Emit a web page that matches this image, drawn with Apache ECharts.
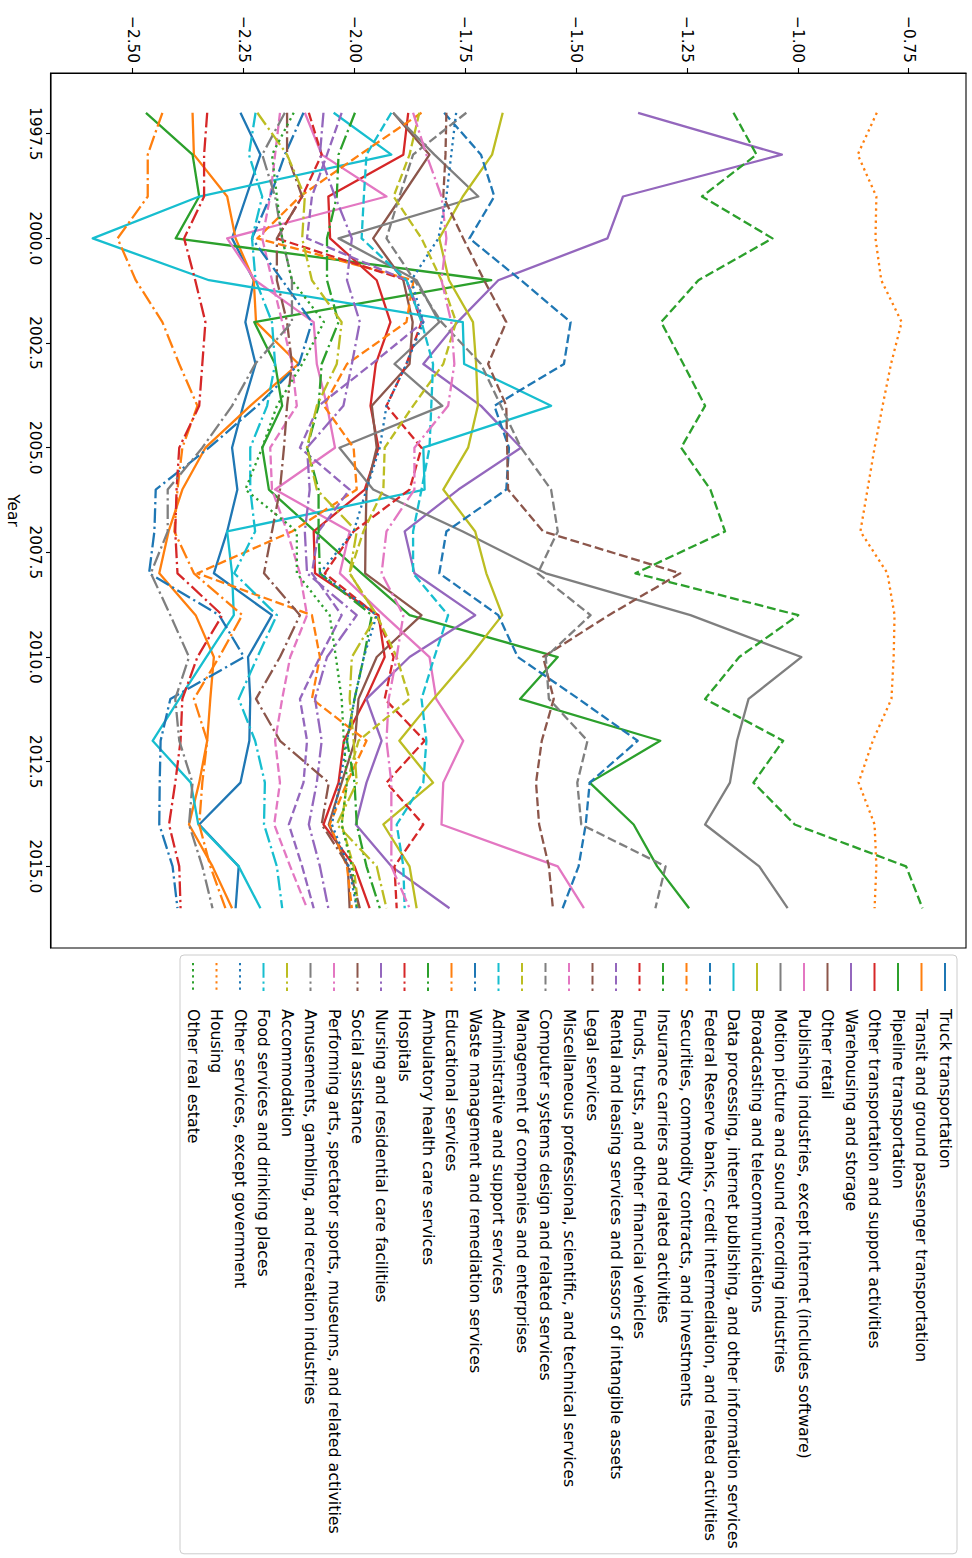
<!DOCTYPE html>
<html>
<head>
<meta charset="utf-8">
<script src="https://cdn.jsdelivr.net/npm/echarts@6/dist/echarts.min.js"></script>
<style>
  html, body { margin: 0; padding: 0; width: 972px; height: 1558px; overflow: hidden; background: #fff; }
  /* The figure is laid out landscape (1558 x 972) and turned a quarter clockwise onto the page. */
  #chart {
    position: absolute; left: 0; top: 0;
    width: 1558px; height: 972px;
    transform-origin: 0 0;
    transform: translate(972px, 0) rotate(90deg);
  }
</style>
</head>
<body>
<div id="chart"></div>
<script>
const years = [1997,1998,1999,2000,2001,2002,2003,2004,2005,2006,2007,2008,2009,2010,2011,2012,2013,2014,2015,2016];
const yearTicks = [1997.5, 2000.0, 2002.5, 2005.0, 2007.5, 2010.0, 2012.5, 2015.0];
const valueTicks = [-2.50, -2.25, -2.00, -1.75, -1.50, -1.25, -1.00, -0.75];

const industryNames = [
  "Truck transportation",
  "Transit and ground passenger transportation",
  "Pipeline transportation",
  "Other transportation and support activities",
  "Warehousing and storage",
  "Other retail",
  "Publishing industries, except internet (includes software)",
  "Motion picture and sound recording industries",
  "Broadcasting and telecommunications",
  "Data processing, internet publishing, and other information services",
  "Federal Reserve banks, credit intermediation, and related activities",
  "Securities, commodity contracts, and investments",
  "Insurance carriers and related activities",
  "Funds, trusts, and other financial vehicles",
  "Rental and leasing services and lessors of intangible assets",
  "Legal services",
  "Miscellaneous professional, scientific, and technical services",
  "Computer systems design and related services",
  "Management of companies and enterprises",
  "Administrative and support services",
  "Waste management and remediation services",
  "Educational services",
  "Ambulatory health care services",
  "Hospitals",
  "Nursing and residential care facilities",
  "Social assistance",
  "Performing arts, spectator sports, museums, and related activities",
  "Amusements, gambling, and recreation industries",
  "Accommodation",
  "Food services and drinking places",
  "Other services, except government",
  "Housing",
  "Other real estate"
];

const truck = [-2.257,-2.212,-2.244,-2.276,-2.227,-2.246,-2.223,-2.251,-2.276,-2.264,-2.287,-2.317,-2.186,-2.240,-2.235,-2.237,-2.257,-2.350,-2.261,-2.268];
const transit = [-2.365,-2.362,-2.287,-2.268,-2.227,-2.222,-2.126,-2.235,-2.336,-2.388,-2.419,-2.440,-2.358,-2.317,-2.325,-2.332,-2.350,-2.373,-2.320,-2.276];
const pipeline = [-2.470,-2.365,-2.350,-2.403,-1.692,-2.226,-2.179,-2.163,-2.208,-2.193,-2.089,-1.984,-1.876,-1.542,-1.627,-1.311,-1.470,-1.371,-1.318,-1.246];
const otherTransport = [-1.879,-1.890,-2.059,-2.055,-1.950,-1.919,-1.952,-1.964,-1.946,-1.977,-2.092,-2.089,-1.946,-1.932,-1.975,-2.024,-2.036,-2.070,-2.000,-1.966];
const warehousing = [-1.361,-1.037,-1.395,-1.430,-1.676,-1.768,-1.845,-1.715,-1.625,-1.766,-1.887,-1.865,-1.728,-1.876,-1.973,-1.939,-1.973,-1.997,-1.917,-1.786];
const otherRetail = [-1.913,-1.831,-1.894,-1.958,-1.890,-1.869,-1.876,-1.961,-1.950,-1.973,-1.975,-1.976,-1.849,-1.950,-1.991,-1.999,-2.029,-2.058,-2.015,-2.011];
const publishing = [-2.112,-2.074,-1.928,-2.287,-2.224,-2.092,-2.085,-2.062,-2.044,-2.179,-2.011,-2.033,-1.934,-1.831,-1.816,-1.755,-1.800,-1.804,-1.542,-1.483];
const motionPicture = [-1.913,-1.820,-1.721,-2.036,-1.860,-1.809,-1.910,-1.802,-2.034,-1.958,-1.756,-1.569,-1.243,-0.993,-1.112,-1.138,-1.154,-1.210,-1.088,-1.024];
const broadcasting = [-1.666,-1.690,-1.756,-1.809,-1.787,-1.733,-1.726,-1.722,-1.744,-1.800,-1.728,-1.703,-1.667,-1.741,-1.822,-1.899,-1.823,-1.935,-1.876,-1.860];
const dataProcessing = [-2.047,-1.917,-2.350,-2.590,-2.328,-1.756,-1.753,-1.557,-1.845,-1.842,-2.287,-2.276,-2.272,-2.334,-2.395,-2.455,-2.369,-2.352,-2.261,-2.212];
const federalReserve = [-1.798,-1.715,-1.685,-1.741,-1.625,-1.513,-1.528,-1.685,-1.652,-1.658,-1.793,-1.809,-1.676,-1.632,-1.495,-1.362,-1.470,-1.479,-1.495,-1.531];
const securities = [-1.849,-1.988,-2.123,-2.219,-1.867,-1.883,-2.017,-2.069,-2.002,-1.995,-2.141,-2.354,-2.096,-2.078,-2.096,-1.973,-2.017,-2.056,-2.017,-2.006];
const insurance = [-1.146,-1.094,-1.217,-1.058,-1.225,-1.309,-1.259,-1.210,-1.264,-1.198,-1.165,-1.367,-1.000,-1.133,-1.210,-1.034,-1.101,-1.008,-0.757,-0.720];
const funds = [-2.103,-2.074,-2.118,-2.175,-1.883,-1.849,-1.883,-1.928,-1.849,-1.876,-2.002,-2.067,-1.950,-1.912,-1.932,-1.842,-1.928,-1.845,-1.910,-1.905];
const rental = [-2.029,-2.062,-2.096,-2.107,-1.883,-1.845,-1.961,-2.081,-2.123,-2.011,-2.081,-2.096,-2.029,-2.078,-2.123,-2.107,-2.115,-2.148,-2.118,-2.092];
const legal = [-1.793,-1.795,-1.800,-1.755,-1.708,-1.658,-1.699,-1.658,-1.656,-1.654,-1.575,-1.266,-1.427,-1.575,-1.551,-1.578,-1.591,-1.584,-1.562,-1.553];
const miscProfessional = [-2.168,-2.179,-2.190,-2.208,-2.186,-2.163,-2.141,-2.130,-2.190,-2.186,-2.152,-2.123,-2.107,-2.145,-2.163,-2.179,-2.168,-2.181,-2.145,-2.107];
const computerSystems = [-1.748,-1.868,-1.899,-1.928,-1.865,-1.804,-1.715,-1.670,-1.625,-1.557,-1.542,-1.587,-1.468,-1.569,-1.562,-1.475,-1.498,-1.489,-1.299,-1.322];
const management = [-1.854,-1.876,-1.912,-1.849,-1.804,-1.771,-1.800,-1.868,-1.932,-1.935,-1.980,-2.011,-1.950,-1.905,-1.876,-1.991,-2.017,-2.029,-2.002,-1.991];
const administrative = [-1.917,-1.973,-1.979,-1.984,-1.883,-1.849,-1.823,-1.827,-1.831,-1.849,-1.868,-1.868,-1.789,-1.820,-1.849,-1.838,-1.845,-1.905,-1.890,-1.887];
const wasteManagement = [-2.115,-2.157,-2.190,-2.231,-2.163,-2.096,-2.125,-2.219,-2.328,-2.448,-2.451,-2.463,-2.305,-2.249,-2.415,-2.437,-2.439,-2.440,-2.410,-2.399];
const educational = [-2.433,-2.466,-2.466,-2.534,-2.493,-2.433,-2.395,-2.354,-2.388,-2.399,-2.406,-2.362,-2.253,-2.305,-2.362,-2.332,-2.343,-2.350,-2.325,-2.291];
const ambulatory = [-1.999,-2.036,-2.040,-2.062,-2.062,-2.036,-2.074,-2.081,-2.107,-2.081,-2.081,-2.078,-1.961,-1.979,-2.000,-2.017,-2.000,-1.995,-1.973,-1.943];
const hospitals = [-2.332,-2.339,-2.339,-2.384,-2.359,-2.336,-2.343,-2.350,-2.395,-2.401,-2.404,-2.399,-2.298,-2.354,-2.388,-2.392,-2.404,-2.418,-2.395,-2.392];
const nursing = [-2.070,-2.078,-2.044,-2.006,-2.017,-1.988,-2.006,-2.025,-2.107,-2.101,-2.112,-2.107,-1.995,-2.062,-2.089,-2.074,-2.085,-2.103,-2.078,-2.059];
const socialAssistance = [-2.152,-2.152,-2.118,-2.175,-2.175,-2.152,-2.141,-2.152,-2.159,-2.168,-2.186,-2.204,-2.123,-2.168,-2.222,-2.168,-2.058,-2.074,-2.013,-1.988];
const performingArts = [-1.868,-1.838,-1.804,-1.793,-1.804,-1.782,-1.775,-1.789,-1.865,-1.865,-1.928,-1.939,-1.890,-1.905,-1.923,-1.928,-1.917,-1.917,-1.917,-1.876];
const amusements = [-2.157,-2.208,-2.179,-2.163,-2.141,-2.141,-2.224,-2.276,-2.343,-2.421,-2.421,-2.459,-2.415,-2.373,-2.404,-2.395,-2.365,-2.373,-2.343,-2.320];
const accommodation = [-2.219,-2.152,-2.112,-2.118,-2.096,-2.029,-2.040,-2.085,-2.107,-2.085,-1.995,-2.011,-1.950,-2.006,-2.011,-2.002,-1.995,-2.040,-1.950,-1.928];
const foodServices = [-2.223,-2.238,-2.208,-2.231,-2.223,-2.186,-2.179,-2.197,-2.235,-2.235,-2.224,-2.271,-2.175,-2.219,-2.261,-2.224,-2.202,-2.204,-2.175,-2.163];
const otherServices = [-1.771,-1.782,-1.793,-1.811,-1.872,-1.845,-1.883,-1.928,-1.943,-1.973,-2.002,-2.078,-1.950,-1.979,-2.000,-2.017,-2.033,-2.051,-2.013,-1.995];
const housing = [-0.823,-0.866,-0.824,-0.826,-0.813,-0.767,-0.791,-0.810,-0.828,-0.844,-0.860,-0.799,-0.783,-0.785,-0.790,-0.832,-0.864,-0.828,-0.824,-0.828];
const otherRealEstate = [-2.137,-2.186,-2.175,-2.163,-2.141,-2.069,-2.118,-2.175,-2.208,-2.246,-2.130,-2.130,-2.056,-2.042,-2.029,-2.024,-2.017,-2.029,-2.006,-1.995];

const seriesValues = [
  truck, transit, pipeline, otherTransport, warehousing, otherRetail, publishing,
  motionPicture, broadcasting, dataProcessing, federalReserve, securities, insurance,
  funds, rental, legal, miscProfessional, computerSystems, management, administrative,
  wasteManagement, educational, ambulatory, hospitals, nursing, socialAssistance,
  performingArts, amusements, accommodation, foodServices, otherServices, housing,
  otherRealEstate
];

// tab10 palette; the line style steps solid -> dashed -> dash-dot -> dotted every ten series
const palette = ['#1f77b4','#ff7f0e','#2ca02c','#d62728','#9467bd','#8c564b','#e377c2','#7f7f7f','#bcbd22','#17becf'];
const LINE_W = 2.3;
const dashStyles = ['solid', [8.9, 3.8], [14.7, 3.8, 2.3, 3.8], [2.3, 3.8]];

const FONT = 'DejaVu Sans';
const TICK_SIZE = 15.3;

const series = industryNames.map((name, i) => ({
  name: name,
  type: 'line',
  data: years.map((y, k) => [y, seriesValues[i][k]]),
  symbol: 'none',
  showSymbol: false,
  silent: true,
  animation: false,
  lineStyle: {
    color: palette[i % 10],
    width: LINE_W,
    type: dashStyles[Math.floor(i / 10)],
    cap: 'butt',
    join: 'round'
  },
  itemStyle: { color: palette[i % 10] }
}));

const fmtValue = v => (v < 0 ? '\u2212' : '') + Math.abs(v).toFixed(2);

const chart = echarts.init(document.getElementById('chart'), null, { renderer: 'svg', width: 1558, height: 972 });
chart.setOption({
  animation: false,
  backgroundColor: '#ffffff',
  grid: {
    left: 73, top: 6, width: 875, height: 918,
    show: true, borderColor: '#000', borderWidth: 1.1, backgroundColor: 'transparent',
    containLabel: false
  },
  xAxis: {
    type: 'value',
    min: 1996.05, max: 2016.95,
    name: 'Year', nameLocation: 'middle', nameGap: 31,
    nameTextStyle: { fontFamily: FONT, fontSize: TICK_SIZE, color: '#000' },
    axisLine: { show: true, onZero: false, lineStyle: { color: '#000', width: 1.1 } },
    axisTick: { show: true, length: 5, customValues: yearTicks, lineStyle: { color: '#000', width: 1.1 } },
    axisLabel: { customValues: yearTicks, formatter: v => v.toFixed(1), margin: 9,
                 fontFamily: FONT, fontSize: TICK_SIZE, color: '#000' },
    splitLine: { show: false }
  },
  yAxis: {
    type: 'value',
    min: -2.684, max: -0.622,
    axisLine: { show: true, onZero: false, lineStyle: { color: '#000', width: 1.1 } },
    axisTick: { show: true, length: 5, customValues: valueTicks, lineStyle: { color: '#000', width: 1.1 } },
    axisLabel: { customValues: valueTicks, formatter: fmtValue, margin: 10,
                 fontFamily: FONT, fontSize: TICK_SIZE, color: '#000' },
    splitLine: { show: false }
  },
  legend: {
    data: industryNames,
    orient: 'vertical',
    left: 955, top: 15,
    padding: [4, 5, 5, 7],
    itemWidth: 28, itemHeight: 16, itemGap: 7.5,
    selectedMode: false,
    borderColor: '#cccccc', borderWidth: 1, borderRadius: 4,
    backgroundColor: 'rgba(255,255,255,0.8)',
    itemStyle: { color: 'transparent', borderWidth: 0, opacity: 0 },
    textStyle: { fontFamily: FONT, fontSize: 15.8, color: '#000', lineHeight: 16, padding: [0, 0, 0, 13] }
  },
  series: series
});
</script>
</body>
</html>
